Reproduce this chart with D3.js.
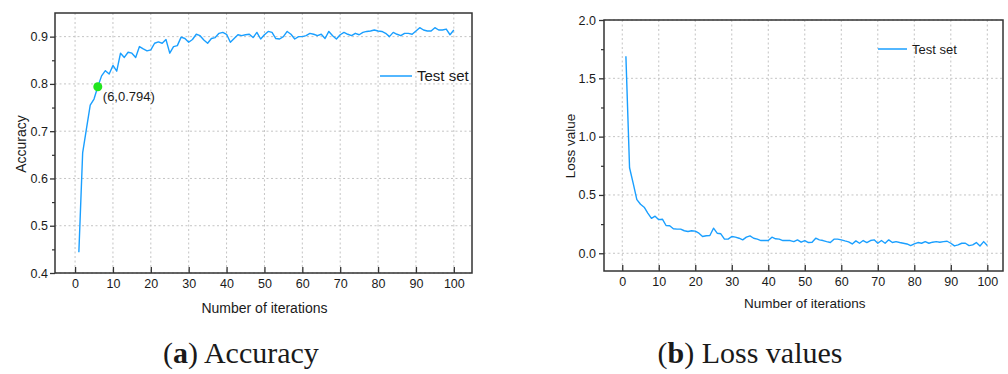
<!DOCTYPE html>
<html>
<head>
<meta charset="utf-8">
<script src="https://cdn.jsdelivr.net/npm/d3@7"></script>
<style>
  body { margin: 0; background: #fff; }
  svg { display: block; }
  text { font-family: "Liberation Sans", Arial, sans-serif; fill: #1a1a1a; }
  .caption { font-family: "Liberation Serif", "Times New Roman", serif; }
</style>
</head>
<body>
<svg id="chart" width="1008" height="374"></svg>
<script>
// test set accuracy, iterations 1..100
const accuracy = [
  0.444, 0.654, 0.705, 0.755, 0.768, 0.794, 0.817, 0.828, 0.821, 0.839,
  0.827, 0.865, 0.856, 0.867, 0.865, 0.856, 0.879, 0.874, 0.870, 0.872,
  0.886, 0.889, 0.886, 0.894, 0.865, 0.879, 0.881, 0.899, 0.896, 0.888,
  0.894, 0.905, 0.902, 0.893, 0.886, 0.896, 0.898, 0.907, 0.909, 0.905,
  0.888, 0.896, 0.904, 0.902, 0.904, 0.905, 0.898, 0.909, 0.895, 0.904,
  0.911, 0.909, 0.896, 0.895, 0.900, 0.911, 0.905, 0.895, 0.900, 0.900,
  0.902, 0.907, 0.905, 0.902, 0.905, 0.896, 0.911, 0.902, 0.895, 0.904,
  0.909, 0.905, 0.902, 0.907, 0.904, 0.909, 0.911, 0.912, 0.914, 0.912,
  0.911, 0.907, 0.900, 0.909, 0.905, 0.902, 0.907, 0.907, 0.905, 0.912,
  0.919, 0.914, 0.912, 0.912, 0.919, 0.914, 0.914, 0.916, 0.904, 0.914
];

// test set loss, iterations 1..100
const loss = [
  1.690, 0.733, 0.600, 0.460, 0.420, 0.395, 0.345, 0.300, 0.318, 0.288,
  0.292, 0.238, 0.236, 0.210, 0.207, 0.207, 0.193, 0.187, 0.193, 0.190,
  0.172, 0.144, 0.150, 0.152, 0.215, 0.172, 0.167, 0.121, 0.121, 0.144,
  0.138, 0.129, 0.115, 0.138, 0.149, 0.129, 0.121, 0.109, 0.109, 0.109,
  0.138, 0.124, 0.121, 0.109, 0.109, 0.109, 0.100, 0.115, 0.095, 0.109,
  0.092, 0.095, 0.129, 0.115, 0.109, 0.100, 0.092, 0.121, 0.121, 0.115,
  0.106, 0.098, 0.080, 0.106, 0.086, 0.109, 0.092, 0.109, 0.115, 0.086,
  0.109, 0.086, 0.115, 0.092, 0.100, 0.092, 0.086, 0.080, 0.066, 0.080,
  0.092, 0.086, 0.100, 0.086, 0.095, 0.100, 0.095, 0.100, 0.103, 0.086,
  0.063, 0.072, 0.086, 0.086, 0.066, 0.072, 0.092, 0.063, 0.100, 0.066
];

const iterTicks = [0, 10, 20, 30, 40, 50, 60, 70, 80, 90, 100];
const accTicks = [0.4, 0.5, 0.6, 0.7, 0.8, 0.9];
const accMinor = [0.45, 0.55, 0.65, 0.75, 0.85];
const lossTicks = [0.0, 0.5, 1.0, 1.5, 2.0];
const lossMinor = [0.25, 0.75, 1.25, 1.75];
const marked = [6, 0.794];

const lineColor = '#1a9fff';
const frameColor = '#333';
const svg = d3.select('#chart');

// draws one panel: frame, grid, ticks, line and legend
function panel(p) {
  const x = d3.scaleLinear().domain(p.xDomain).range([p.x0, p.x1]);
  const y = d3.scaleLinear().domain(p.yDomain).range([p.y1, p.y0]);
  const g = svg.append('g');

  // dotted grid at major ticks
  g.append('g').selectAll('line').data(iterTicks).enter().append('line')
    .attr('x1', d => x(d)).attr('x2', d => x(d))
    .attr('y1', p.y0).attr('y2', p.y1)
    .attr('stroke', '#c4c4c4').attr('stroke-width', 1).attr('stroke-dasharray', '2,2.5');
  g.append('g').selectAll('line').data(p.yTicks).enter().append('line')
    .attr('x1', p.x0).attr('x2', p.x1)
    .attr('y1', d => y(d)).attr('y2', d => y(d))
    .attr('stroke', '#c4c4c4').attr('stroke-width', 1).attr('stroke-dasharray', '2,2.5');

  // x axis, ticks pointing into the plot
  const xa = g.append('g').attr('transform', 'translate(0,' + p.y1 + ')')
    .call(d3.axisBottom(x).tickValues(iterTicks).tickSize(-6).tickPadding(6).tickFormat(d3.format('d')));
  xa.select('.domain').remove();
  xa.selectAll('.tick line').attr('stroke', frameColor).attr('stroke-width', 1.3);
  xa.selectAll('text').attr('font-size', p.tickFont).attr('fill', '#1a1a1a');

  // y axis, major and minor ticks outward
  const ya = g.append('g').attr('transform', 'translate(' + p.x0 + ',0)')
    .call(d3.axisLeft(y).tickValues(p.yTicks).tickSize(5).tickPadding(p.yPad).tickFormat(d3.format('.1f')));
  ya.select('.domain').remove();
  ya.selectAll('.tick line').attr('stroke', frameColor).attr('stroke-width', 1.3);
  ya.selectAll('text').attr('font-size', p.tickFont).attr('fill', '#1a1a1a');
  const ym = g.append('g').attr('transform', 'translate(' + p.x0 + ',0)')
    .call(d3.axisLeft(y).tickValues(p.yMinor).tickSize(3).tickFormat(''));
  ym.select('.domain').remove();
  ym.selectAll('.tick line').attr('stroke', frameColor).attr('stroke-width', 1.2);

  // the series
  const line = d3.line().x(d => x(d[0])).y(d => y(d[1]));
  g.append('path').datum(p.values.map((v, i) => [i + 1, v]))
    .attr('d', line).attr('fill', 'none')
    .attr('stroke', lineColor).attr('stroke-width', 1.4).attr('stroke-linejoin', 'round');

  // frame
  g.append('rect').attr('x', p.x0).attr('y', p.y0)
    .attr('width', p.x1 - p.x0).attr('height', p.y1 - p.y0)
    .attr('fill', 'none').attr('stroke', frameColor).attr('stroke-width', 1.5);

  // legend
  g.append('line').attr('x1', p.legX).attr('x2', p.legX + p.legLen)
    .attr('y1', p.legY).attr('y2', p.legY)
    .attr('stroke', lineColor).attr('stroke-width', 1.5);
  g.append('text').attr('x', p.legX + p.legLen + 5).attr('y', p.legY)
    .attr('dy', '0.35em').attr('font-size', p.legFont).text('Test set');

  // axis titles
  g.append('text').attr('x', (x(0) + x(100)) / 2).attr('y', p.xTitleY)
    .attr('text-anchor', 'middle').attr('dy', '0.35em')
    .attr('font-size', p.titleFont).text('Number of iterations');
  g.append('text')
    .attr('transform', 'translate(' + p.yTitleX + ',' + p.yTitleY + ') rotate(-90)')
    .attr('text-anchor', 'middle').attr('dy', '0.35em')
    .attr('font-size', p.titleFont).text(p.yTitle);

  // caption under the panel
  const cap = g.append('text').attr('class', 'caption')
    .attr('x', p.capX).attr('y', 363).attr('text-anchor', 'middle').attr('font-size', 30);
  cap.append('tspan').text('(');
  cap.append('tspan').attr('font-weight', 'bold').text(p.capLetter);
  cap.append('tspan').text(') ' + p.capText);

  return { x: x, y: y, g: g };
}

const a = panel({
  x0: 55, x1: 472, y0: 13, y1: 273,
  xDomain: [-5.3, 104.8], yDomain: [0.4, 0.95],
  yTicks: accTicks, yMinor: accMinor, yPad: 2,
  values: accuracy, tickFont: 12.5, titleFont: 14, legFont: 15,
  legX: 380, legY: 76, legLen: 32,
  xTitleY: 308, yTitleX: 21, yTitleY: 144, yTitle: 'Accuracy',
  capX: 241, capLetter: 'a', capText: 'Accuracy'
});

// marked point on the accuracy curve
a.g.append('circle').attr('cx', a.x(marked[0])).attr('cy', a.y(marked[1]))
  .attr('r', 4.5).attr('fill', '#22e51e');
a.g.append('text').attr('x', a.x(marked[0]) + 5).attr('y', a.y(marked[1]) + 10)
  .attr('dy', '0.35em').attr('font-size', 13)
  .text('(' + marked[0] + ',' + marked[1] + ')');

panel({
  x0: 604, x1: 1003, y0: 20, y1: 271,
  xDomain: [-5.0, 104.3], yDomain: [-0.152, 2.0],
  yTicks: lossTicks, yMinor: lossMinor, yPad: 3,
  values: loss, tickFont: 12.5, titleFont: 13.5, legFont: 13,
  legX: 878, legY: 49, legLen: 29,
  xTitleY: 303, yTitleX: 570, yTitleY: 146, yTitle: 'Loss value',
  capX: 750, capLetter: 'b', capText: 'Loss values'
});
</script>
</body>
</html>
